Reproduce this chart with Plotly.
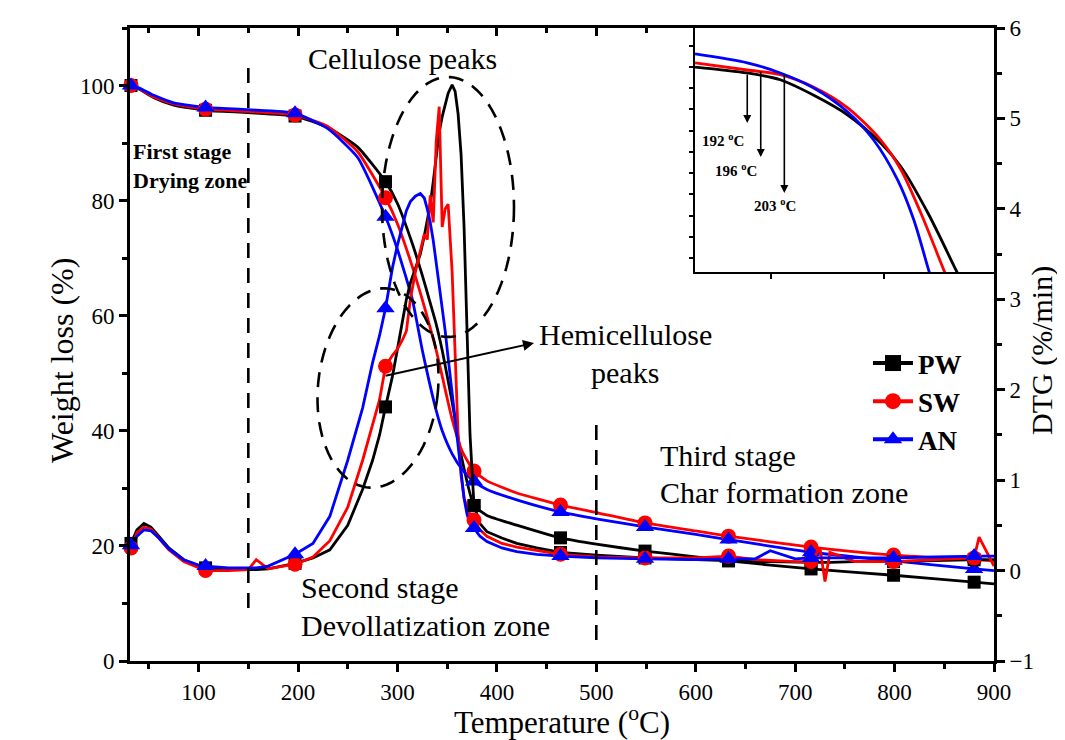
import math
import plotly.graph_objects as go

SERIF = "Liberation Serif, Times New Roman, serif"

# ---------------- data ----------------
series_names = ["PW", "SW", "AN"]

tg_T = [32, 40, 55, 75, 107, 150, 197, 230, 260, 288, 300, 315, 325, 332, 339, 345, 355, 365,
        377, 390, 420, 464, 500, 549, 600, 633, 716, 799, 880, 900]
tg_PW = [100, 99.4, 97.9, 96.6, 95.7, 95.3, 94.7, 92.7, 89.3, 83.3, 79.5, 72.5, 67.0, 62.8, 58.5,
         54.0, 45.0, 35.0, 27.0, 25.3, 23.6, 21.4, 20.3, 19.1, 18.1, 17.4, 16.0, 14.9, 13.7, 13.4]
tg_SW = [100, 99.5, 98.0, 96.8, 95.9, 95.5, 94.9, 92.9, 88.5, 80.5, 76.0, 68.5, 62.8, 58.5, 54.0,
         49.5, 42.0, 36.5, 33.0, 31.3, 29.2, 27.1, 25.8, 24.0, 22.6, 21.7, 19.8, 18.4, 17.6, 17.4]
tg_AN = [100, 99.6, 98.3, 97.0, 96.2, 95.8, 95.2, 92.5, 87.5, 77.2, 71.5, 62.8, 54.0, 48.5, 43.5,
         40.0, 36.0, 33.3, 31.2, 29.8, 28.0, 25.9, 24.7, 23.3, 22.0, 21.1, 18.9, 17.4, 16.0, 15.7]

dtg_T = [32, 38, 45, 52, 60, 70, 85, 100, 107, 130, 150, 158, 170, 197, 215, 232, 250, 265, 275,
         282, 288, 295, 300, 305, 309, 313, 318, 323, 327, 330, 333, 336, 339, 342, 345, 348, 351,
         355, 358, 361, 364, 367, 370, 373, 377, 383, 390, 405, 420, 440, 464, 500, 549, 600, 633,
         660, 675, 700, 716, 725, 730, 735, 760, 799, 840, 870, 880, 885, 900]
dtg_PW = [0.30, 0.45, 0.52, 0.48, 0.38, 0.25, 0.12, 0.05, 0.03, 0.01, 0.01, 0.01, 0.02, 0.08, 0.14,
          0.23, 0.50, 0.90, 1.22, 1.50, 1.81, 2.15, 2.45, 2.75, 3.00, 3.18, 3.35, 3.50, 3.70, 3.88,
          4.05, 4.30, 4.60, 4.85, 5.02, 5.15, 5.28, 5.37, 5.30, 5.05, 4.60, 3.80, 2.60, 1.50, 0.72,
          0.52, 0.43, 0.36, 0.30, 0.25, 0.20, 0.17, 0.14, 0.12, 0.11, 0.10, 0.10, 0.09, 0.09, 0.09,
          0.09, 0.09, 0.10, 0.10, 0.11, 0.12, 0.12, 0.12, 0.12]
dtg_SW = [0.25, 0.42, 0.48, 0.46, 0.36, 0.23, 0.10, 0.03, 0.00, 0.00, 0.01, 0.12, 0.02, 0.07, 0.15,
          0.33, 0.70, 1.22, 1.60, 1.89, 2.26, 2.38, 2.45, 2.55, 2.65, 3.00, 3.30, 3.55, 3.72, 3.66,
          4.15, 3.85, 4.75, 5.13, 3.80, 4.00, 4.05, 3.30, 2.30, 1.50, 1.05, 0.80, 0.70, 0.62, 0.56,
          0.45, 0.38, 0.30, 0.26, 0.22, 0.18, 0.15, 0.14, 0.14, 0.16, 0.12, 0.11, 0.10, 0.10, 0.25,
          -0.12, 0.20, 0.10, 0.10, 0.12, 0.13, 0.14, 0.37, 0.05]
dtg_AN = [0.28, 0.38, 0.45, 0.44, 0.36, 0.24, 0.12, 0.06, 0.05, 0.03, 0.03, 0.03, 0.05, 0.18, 0.30,
          0.60, 1.22, 1.80, 2.30, 2.60, 2.90, 3.35, 3.60, 3.82, 3.98, 4.08, 4.14, 4.17, 4.12, 4.00,
          3.85, 3.65, 3.40, 3.20, 2.95, 2.65, 2.35, 1.95, 1.65, 1.35, 1.10, 0.80, 0.62, 0.52, 0.47,
          0.38, 0.32, 0.25, 0.21, 0.18, 0.16, 0.14, 0.13, 0.12, 0.13, 0.13, 0.22, 0.13, 0.14, 0.14,
          0.14, 0.14, 0.14, 0.14, 0.15, 0.16, 0.16, 0.16, 0.16]

marker_T = [32, 107, 197, 288, 377, 464, 549, 633, 716, 799, 880]

# inset (zoom of onset region of TG curves)
inset_T_PW = [176.5, 192, 201.8, 211.6, 221.8, 231.6, 237.6, 245.6, 253.9, 257.3]
inset_PW = [94.83, 94.69, 94.53, 94.17, 93.70, 93.04, 92.48, 91.39, 90.05, 89.5]
inset_T_SW = [176.5, 192, 201.8, 211.6, 221.8, 231.6, 237.6, 243.5, 250.3, 253.1]
inset_SW = [94.93, 94.76, 94.65, 94.36, 93.87, 93.11, 92.41, 91.39, 90.05, 89.5]
inset_T_AN = [176.5, 192, 201.8, 211.6, 221.8, 229.5, 236.6, 241.4, 245.8, 247.9]
inset_AN = [95.14, 94.93, 94.69, 94.34, 93.77, 93.11, 92.17, 91.23, 90.05, 89.5]
onset_T = [192, 196, 203]
onset_labels = ["192 <sup>o</sup>C", "196 <sup>o</sup>C", "203 <sup>o</sup>C"]

# ---------------- styling ----------------
colors = {"PW": "#000000", "SW": "#ff0000", "AN": "#0000ff"}
symbols = {"PW": "square", "SW": "circle", "AN": "triangle-up"}
msize = {"PW": 13, "SW": 15, "AN": 16}
tg = {"PW": tg_PW, "SW": tg_SW, "AN": tg_AN}
dtg = {"PW": dtg_PW, "SW": dtg_SW, "AN": dtg_AN}
inset_T = {"PW": inset_T_PW, "SW": inset_T_SW, "AN": inset_T_AN}
inset_v = {"PW": inset_PW, "SW": inset_SW, "AN": inset_AN}

# page body has an 8px margin: the figure is sized so the plot lands where the reference has it
W, H = 1057, 732
L, R, T, B = 122, 71, 20, 79
PLOT_W = W - L - R
PLOT_H = H - T - B
SX0, SY1 = 130, 661  # screen position of plot left / bottom


def px(x):
    return (x - SX0) / PLOT_W


def py(y):
    return (SY1 - y) / PLOT_H


fig = go.Figure()

for n in series_names:
    fig.add_trace(go.Scatter(x=tg_T, y=tg[n], mode="lines", xaxis="x", yaxis="y",
                             line=dict(color=colors[n], width=2.8, shape="spline", smoothing=0.5),
                             showlegend=False, hoverinfo="skip"))
for n in series_names:
    idx = [tg_T.index(t) for t in marker_T]
    fig.add_trace(go.Scatter(x=[tg_T[i] for i in idx], y=[tg[n][i] for i in idx], mode="markers",
                             xaxis="x", yaxis="y", cliponaxis=False,
                             marker=dict(color=colors[n], symbol=symbols[n], size=msize[n]),
                             showlegend=False, hoverinfo="skip"))
for n in series_names:
    fig.add_trace(go.Scatter(x=dtg_T, y=dtg[n], mode="lines", xaxis="x", yaxis="y2",
                             line=dict(color=colors[n], width=2.8),
                             showlegend=False, hoverinfo="skip"))
for n in series_names:
    idx = [dtg_T.index(t) for t in marker_T]
    fig.add_trace(go.Scatter(x=[dtg_T[i] for i in idx], y=[dtg[n][i] for i in idx], mode="markers",
                             xaxis="x", yaxis="y2", cliponaxis=False,
                             marker=dict(color=colors[n], symbol=symbols[n], size=msize[n]),
                             showlegend=False, hoverinfo="skip"))
for n in series_names:
    fig.add_trace(go.Scatter(x=[None], y=[None], mode="lines+markers", name=n, legendgroup=n,
                             xaxis="x", yaxis="y",
                             line=dict(color=colors[n], width=4),
                             marker=dict(color=colors[n], symbol=symbols[n], size=msize[n] + 3)))
fig.add_trace(go.Scatter(x=tg_T[:1], y=tg_PW[:1], mode="markers", xaxis="x3", yaxis="y",
                         marker=dict(opacity=0), showlegend=False, hoverinfo="skip"))
for n in series_names:
    fig.add_trace(go.Scatter(x=inset_T[n], y=inset_v[n], mode="lines", xaxis="x4", yaxis="y4",
                             line=dict(color=colors[n], width=2.8, shape="spline", smoothing=0.8),
                             showlegend=False, hoverinfo="skip"))

axis_common = dict(showline=True, linecolor="black", linewidth=3, showgrid=False, zeroline=False,
                   automargin=False,
                   ticks="outside", ticklen=8, tickwidth=3, tickcolor="black",
                   tickfont=dict(family=SERIF, size=23, color="black"))
minor_out = dict(ticks="outside", ticklen=5, tickwidth=3, tickcolor="black")

fig.update_layout(
    width=W, height=H,
    margin=dict(l=L, r=R, t=T, b=B, autoexpand=False),
    paper_bgcolor="white", plot_bgcolor="white",
    font=dict(family=SERIF, color="black"),
    xaxis=dict(**axis_common, range=[31, 900], dtick=100, tick0=0, anchor="y",
               minor=dict(dtick=50, tick0=0, **minor_out),
               title=dict(text="Temperature (<sup>o</sup>C)", font=dict(family=SERIF, size=31), standoff=2)),
    xaxis3=dict(overlaying="x", side="top", anchor="y", range=[31, 900], dtick=100, tick0=0,
                automargin=False,
                showline=True, linecolor="black", linewidth=3, showgrid=False, zeroline=False,
                ticks="inside", ticklen=8, tickwidth=3, tickcolor="black", showticklabels=False,
                minor=dict(dtick=50, tick0=0, ticks="inside", ticklen=5, tickwidth=3, tickcolor="black")),
    yaxis=dict(**axis_common, range=[0, 110], dtick=20, tick0=0, anchor="x",
               minor=dict(dtick=10, tick0=0, **minor_out)),
    yaxis2=dict(**axis_common, range=[-1, 6], dtick=1, tick0=0, overlaying="y", side="right", anchor="x",
                minor=dict(dtick=0.5, tick0=0, **minor_out)),
    xaxis4=dict(domain=[px(695), 1.0], anchor="y4", range=[176.5, 265.2], automargin=False,
                showline=True, linecolor="black", linewidth=1.5, showgrid=False, zeroline=False,
                ticks="outside", ticklen=5, tickwidth=2, tickcolor="black", showticklabels=False,
                tickmode="array", tickvals=[199, 232.5]),
    yaxis4=dict(domain=[py(272), 1.0], anchor="x4", range=[90, 95.75], automargin=False,
                showline=True, linecolor="black", linewidth=1.5, showgrid=False, zeroline=False,
                ticks="outside", ticklen=4, tickwidth=1.5, tickcolor="black", showticklabels=False,
                tick0=90.33, dtick=0.5),
    legend=dict(x=px(868), y=py(339), xanchor="left", yanchor="top", bgcolor="rgba(0,0,0,0)",
                font=dict(family=SERIF, size=27, color="black", weight="bold"),
                tracegroupgap=0, itemwidth=40),
    showlegend=True,
)

dash = "15px,10px"
fig.add_shape(type="line", xref="x", yref="paper", x0=150, x1=150, y0=py(608), y1=py(65),
              line=dict(color="black", width=2.6, dash=dash))
fig.add_shape(type="line", xref="x", yref="paper", x0=500, x1=500, y0=py(640), y1=py(415),
              line=dict(color="black", width=2.6, dash=dash))


def ellipse_path(cx, cy, a, b, th, n=90):
    pts = []
    for i in range(n + 1):
        t = 2 * math.pi * i / n
        x0, y0 = a * math.cos(t), b * math.sin(t)
        xr = cx + x0 * math.cos(th) - y0 * math.sin(th)
        yr = cy + x0 * math.sin(th) + y0 * math.cos(th)
        pts.append(f"{px(xr):.5f},{py(yr):.5f}")
    return "M " + " L ".join(pts) + " Z"


fig.add_shape(type="path", xref="paper", yref="paper", path=ellipse_path(448, 207, 66, 130, 0.0),
              line=dict(color="black", width=2.6, dash=dash))
fig.add_shape(type="path", xref="paper", yref="paper", path=ellipse_path(378, 388, 60, 100, 0.1),
              line=dict(color="black", width=2.6, dash=dash))


def txt(x, y, text, size=30, anchor="center", bold=False, angle=0):
    fig.add_annotation(x=px(x), y=py(y), xref="paper", yref="paper", text=text, showarrow=False,
                       xanchor=anchor, yanchor="middle", textangle=angle,
                       font=dict(family=SERIF, size=size, color="black",
                                 weight="bold" if bold else "normal"))


# axis titles for the two y axes
txt(62, 361, "Weight loss (%)", size=32, angle=-90)
txt(1042, 351, "DTG (%/min)", size=30, angle=-90)

txt(402, 58, "Cellulose peaks")
txt(625, 334, "Hemicellulose")
txt(625, 372, "peaks")
txt(131, 152, "First stage", size=22, anchor="left", bold=True)
txt(131, 180, "Drying zone", size=22, anchor="left", bold=True)
txt(299, 587, "Second stage", anchor="left")
txt(299, 625, "Devollatization zone", anchor="left")
txt(658, 456, "Third stage", anchor="left")
txt(658, 492, "Char formation zone", anchor="left")

fig.add_annotation(x=px(534), y=py(343), xref="paper", yref="paper", ax=-150, ay=33,
                   showarrow=True, arrowhead=2, arrowsize=1.1, arrowwidth=2, arrowcolor="black", text="")

arrow_tail = [94.69, 94.76, 94.69]
arrow_head = [93.51, 92.71, 91.86]
for t, a0, a1 in zip(onset_T, arrow_tail, arrow_head):
    fig.add_annotation(x=t, y=a1, xref="x4", yref="y4", ax=t, ay=a0, axref="x4", ayref="y4",
                       showarrow=True, arrowhead=2, arrowsize=1.0, arrowwidth=1.6,
                       arrowcolor="black", text="")
label_pos = [(723, 140), (736, 170), (775, 205)]
for (lx, ly), lab in zip(label_pos, onset_labels):
    txt(lx, ly, lab, size=15, bold=True)

fig.write_html("out.html")
